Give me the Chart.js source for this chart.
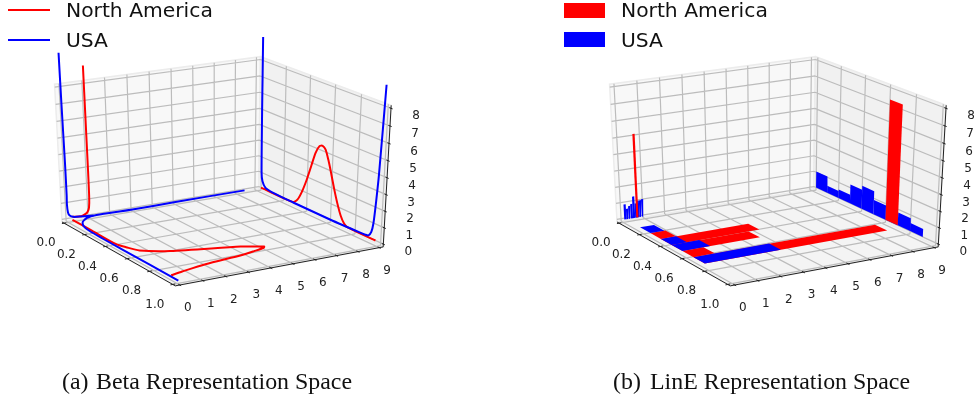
<!DOCTYPE html>
<html>
<head>
<meta charset="utf-8">
<script src="https://cdn.jsdelivr.net/npm/chart.js@4"></script>
<style>
    body { margin: 0; background: #fff; width: 974px; height: 402px; overflow: hidden; position: relative; }
    canvas { position: absolute; top: 0; }
    .legend { position: absolute; font: 20.3px "DejaVu Sans"; color: #111; line-height: 24px; white-space: nowrap; }
    .line { position: absolute; height: 2px; width: 42px; }
    .box { position: absolute; height: 15px; width: 41px; }
    .caption { position: absolute; top: 368px; font: 23.9px "Liberation Serif"; color: #111; white-space: pre; }
</style>
</head>
<body>
<canvas id="betaChart" width="487" height="402" style="left:0"></canvas>
<canvas id="lineChart" width="487" height="402" style="left:487px"></canvas>

<div class="line" style="left:8px;top:9px;background:#f00"></div>
<div class="legend" style="left:66px;top:-2px">North America</div>
<div class="line" style="left:8px;top:39px;background:#00f"></div>
<div class="legend" style="left:66px;top:28px">USA</div>

<div class="box" style="left:564px;top:3px;background:#f00"></div>
<div class="legend" style="left:621px;top:-2px">North America</div>
<div class="box" style="left:564px;top:32px;background:#00f"></div>
<div class="legend" style="left:621px;top:28px">USA</div>

<div class="caption" style="left:62px">(a)</div>
<div class="caption" style="left:96px">Beta Representation Space</div>
<div class="caption" style="left:613px">(b)</div>
<div class="caption" style="left:650px">LinE Representation Space</div>

<script>
// axis ticks
const xTicks = [0, 0.2, 0.4, 0.6, 0.8, 1];
const xTickLabels = ['0.0', '0.2', '0.4', '0.6', '0.8', '1.0'];
const yTicks = [0, 1, 2, 3, 4, 5, 6, 7, 8, 9];
const zTicks = [0, 1, 2, 3, 4, 5, 6, 7, 8];

// Beta space, curves on the left wall (y, z)
const naLeftY = [0.98, 0.99, 1, 1, 0.97, 0.9, 0.82, 0.6, 0.2];
const naLeftZ = [9.1, 6, 3.2, 1.2, 0.55, 0.3, 0.2, 0.08, 0.15];
const usaLeftY = [-0.04, -0.03, -0.01, -0.01, -0.02, 0.01, 0.08, 0.24, 0.6, 1.16];
const usaLeftZ = [10, 7, 3.55, 1.5, 1, 0.46, 0.25, 0.13, 0.07, 0];

// Beta space, curves on the right wall (x, z)
const naRightX = [0, 0.28, 0.32, 0.355, 0.395, 0.43, 0.46, 0.49, 0.515, 0.54, 0.565, 0.59, 0.62, 0.65, 0.68, 0.71, 0.74, 0.96];
const naRightZ = [0, 0.02, 0.3, 0.9, 1.85, 2.85, 3.7, 4.2, 4.3, 4.15, 3.6, 2.9, 2, 1.2, 0.55, 0.15, 0.02, 0];
const usaRightX = [0, 0, 0.003, 0.012, 0.04, 0.1, 0.28, 0.6, 0.84, 0.88, 0.905, 0.925, 0.938, 0.948, 0.96, 0.98];
const usaRightZ = [9.4, 5, 1, 0.45, 0.12, 0.03, 0, 0, 0.05, 0.07, 0.12, 0.4, 1, 2.15, 4, 9.2];

// Beta space, curves on the floor (x, y)
const naFloorX = [0.01, 0.2, 0.43, 0.49, 0.56, 0.635, 0.735, 0.772, 0.786, 0.8, 0.82, 0.84, 0.87, 0.905, 0.925];
const naFloorY = [0.15, 0.15, 0.15, 0.3, 0.55, 1.55, 4.2, 4.8, 5, 4.9, 4.35, 3.7, 1.9, 0.7, 0.12];
const usaFloorX = [0, 0, 0.007, 0, 0.015, 0.04, 0.064, 0.12, 0.2, 0.5, 1];
const usaFloorY = [8.37, 5, 2.86, 1.3, 0.8, 0.55, 0.365, 0.15, 0.05, 0.03, 0.05];

// LinE space, histogram bars on the left wall (bins of 0.1 along y)
const usaLeftBins = [0.05, 0.15, 0.25, 0.35, 0.45, 0.55, 0.65, 0.75, 0.85];
const usaLeftBars = [0.95, 0.65, 0.8, 0.9, 1.35, 0.9, 1.05, 1.05, 1.1];
const naLeftBin = 0.6;
const naLeftBar = 5.15;

// LinE space, histogram bars on the right wall (bins of 0.1 along x)
const usaRightBins = [0, 0.1, 0.2, 0.3, 0.4, 0.5, 0.6, 0.7, 0.8];
const usaRightBars = [1.05, 0.45, 0.55, 1.2, 1.45, 0.9, 0.7, 0.8, 0.5];
const naRightBin = 0.6;
const naRightBar = 7.3;

// LinE space, histogram bars on the floor (bins of 0.1 along x)
const naFloorBins = [0.24, 0.34, 0.44, 0.54, 0.64];
const naFloorBars = [0.8, 4.1, 3.6, 1.05, 8.45];
const usaFloorBins = [0.14, 0.34, 0.44, 0.64];
const usaFloorBars = [0.75, 0.8, 1.35, 3.5];

// plot box and camera
const xLim = [-0.021, 1.021], yLim = [-0.19, 9.19], zLim = [-0.17, 8.17];
const elev = 25 * Math.PI / 180, azim = -30.5 * Math.PI / 180, dist = 9;

function project(x, y, z) {
    const px = (x - xLim[0]) / (xLim[1] - xLim[0]) - 0.5;
    const py = (y - yLim[0]) / (yLim[1] - yLim[0]) - 0.5;
    const pz = (z - zLim[0]) / (zLim[1] - zLim[0]) - 0.5;
    const ce = Math.cos(elev), se = Math.sin(elev), ca = Math.cos(azim), sa = Math.sin(azim);
    const depth = px * ce * ca + py * ce * sa + pz * se;
    const f = dist / (dist - depth);
    return {
        x: (-px * sa + py * ca) * f,
        y: (-px * se * ca - py * se * sa + pz * ce) * f
    };
}

const GAP = { x: null, y: null };

function segments(list) {
    const out = [];
    list.forEach(s => {
        s.forEach(p => out.push(project(p[0], p[1], p[2])));
        out.push(GAP);
    });
    return out;
}

function gridLines() {
    const s = [];
    const [x0, x1] = xLim, [y0, y1] = yLim, [z0, z1] = zLim;
    xTicks.forEach(t => {
        s.push([[t, y0, z0], [t, y1, z0]]);
        s.push([[t, y1, z0], [t, y1, z1]]);
    });
    yTicks.forEach(t => {
        s.push([[x0, t, z0], [x1, t, z0]]);
        s.push([[x0, t, z0], [x0, t, z1]]);
    });
    zTicks.forEach(t => {
        s.push([[x0, y0, t], [x0, y1, t]]);
        s.push([[x0, y1, t], [x1, y1, t]]);
    });
    return segments(s);
}

function axisLines() {
    const s = [];
    const [x0, x1] = xLim, [y0, y1] = yLim, [z0, z1] = zLim;
    s.push([[x0, y0, z0], [x1, y0, z0]]);
    s.push([[x1, y0, z0], [x1, y1, z0]]);
    s.push([[x1, y1, z0], [x1, y1, z1]]);
    xTicks.forEach(t => s.push([[t, y0 + 0.1, z0], [t, y0 - 0.1, z0]]));
    yTicks.forEach(t => s.push([[x1 - 0.012, t, z0], [x1 + 0.012, t, z0]]));
    zTicks.forEach(t => s.push([[x1 - 0.012, y1, t], [x1 + 0.012, y1, t]]));
    return segments(s);
}

function pane(points, color) {
    return {
        data: points.concat([points[0]]).map(p => project(p[0], p[1], p[2])),
        showLine: true, pointRadius: 0, borderWidth: 1.5, borderColor: '#ececec', backgroundColor: color, fill: 'shape', tension: 0
    };
}

function commonDatasets() {
    const [x0, x1] = xLim, [y0, y1] = yLim, [z0, z1] = zLim;
    return [
        pane([[x0, y0, z0], [x0, y1, z0], [x0, y1, z1], [x0, y0, z1]], '#f8f8f8'),
        pane([[x0, y1, z0], [x1, y1, z0], [x1, y1, z1], [x0, y1, z1]], '#f1f1f1'),
        pane([[x0, y0, z0], [x1, y0, z0], [x1, y1, z0], [x0, y1, z0]], '#f4f4f4'),
        { data: gridLines(), showLine: true, pointRadius: 0, borderWidth: 1.2, borderColor: '#bcbcbc', tension: 0 },
        { data: axisLines(), showLine: true, pointRadius: 0, borderWidth: 1, borderColor: '#222', tension: 0 }
    ];
}

function curve(xs, ys, zs, color) {
    return {
        data: xs.map((v, i) => project(v, ys[i], zs[i])),
        showLine: true, pointRadius: 0, borderWidth: 2, borderColor: color, tension: 0.25
    };
}

const fixed = (arr, v) => arr.map(() => v);

function bar(corners, color) {
    return {
        data: corners.concat([corners[0]]).map(p => project(p[0], p[1], p[2])),
        showLine: true, pointRadius: 0, borderWidth: 0, backgroundColor: color, fill: 'shape', tension: 0
    };
}

function leftBar(start, h, width, color) {
    return bar([[0, start, 0], [0, start + width, 0], [0, start + width, h], [0, start, h]], color);
}

function rightBar(start, h, color) {
    return bar([[start, 9.19, 0], [start + 0.1, 9.19, 0], [start + 0.1, 9.19, h], [start, 9.19, h]], color);
}

function floorBar(start, end, color) {
    const y0 = 0.12;
    return bar([[start, y0, 0], [start + 0.1, y0, 0], [start + 0.1, end, 0], [start, end, 0]], color);
}

const tickLabels = {
    id: 'tickLabels',
    afterDraw(chart) {
        const { ctx, scales: { x, y } } = chart;
        const put = (text, p, dx, dy) => ctx.fillText(text, x.getPixelForValue(p.x) + dx, y.getPixelForValue(p.y) + dy);
        ctx.save();
        ctx.font = '12px "DejaVu Sans"';
        ctx.fillStyle = '#222';
        ctx.textAlign = 'center';
        ctx.textBaseline = 'middle';
        xTicks.forEach((t, i) => put(xTickLabels[i], project(t, yLim[0], zLim[0]), -18, 20));
        yTicks.forEach(t => put(String(t), project(xLim[1], t, zLim[0]), 8, 23));
        zTicks.forEach(t => put(String(t), project(xLim[1], yLim[1], t), 25, 8));
        ctx.restore();
    }
};

function makeChart(id, datasets, xMin, xMax) {
    new Chart(document.getElementById(id), {
        type: 'scatter',
        // chart.js paints the first dataset last, so flip the painter's order
        data: { datasets: datasets.reverse() },
        options: {
            responsive: false,
            animation: false,
            layout: { padding: 0 },
            plugins: { legend: { display: false }, tooltip: { enabled: false } },
            scales: {
                x: { type: 'linear', min: xMin, max: xMax, display: false },
                y: { type: 'linear', min: -1.532, max: 1.078, display: false }
            }
        },
        plugins: [tickLabels]
    });
}

// Beta Representation Space
makeChart('betaChart', commonDatasets().concat([
    curve(fixed(naLeftY, 0), naLeftY, naLeftZ, '#f00'),
    curve(naRightX, fixed(naRightX, 9.19), naRightZ, '#f00'),
    curve(naFloorX, naFloorY, fixed(naFloorX, 0), '#f00'),
    curve(fixed(usaLeftY, 0), usaLeftY, usaLeftZ, '#00f'),
    curve(usaRightX, fixed(usaRightX, 9.19), usaRightZ, '#00f'),
    curve(usaFloorX, usaFloorY, fixed(usaFloorX, 0), '#00f')
]), -0.9158, 1.1133);

// LinE Representation Space
makeChart('lineChart', commonDatasets().concat(
    usaLeftBins.map((b, i) => leftBar(b, usaLeftBars[i], 0.1, '#00f')),
    [leftBar(naLeftBin, naLeftBar, 0.1, '#f00')],
    usaRightBins.map((b, i) => rightBar(b, usaRightBars[i], '#00f')),
    [rightBar(naRightBin, naRightBar, '#f00')],
    naFloorBins.map((b, i) => floorBar(b, naFloorBars[i], '#f00')),
    usaFloorBins.map((b, i) => floorBar(b, usaFloorBars[i], '#00f'))
), -1.1992, 0.83);
</script>
</body>
</html>
